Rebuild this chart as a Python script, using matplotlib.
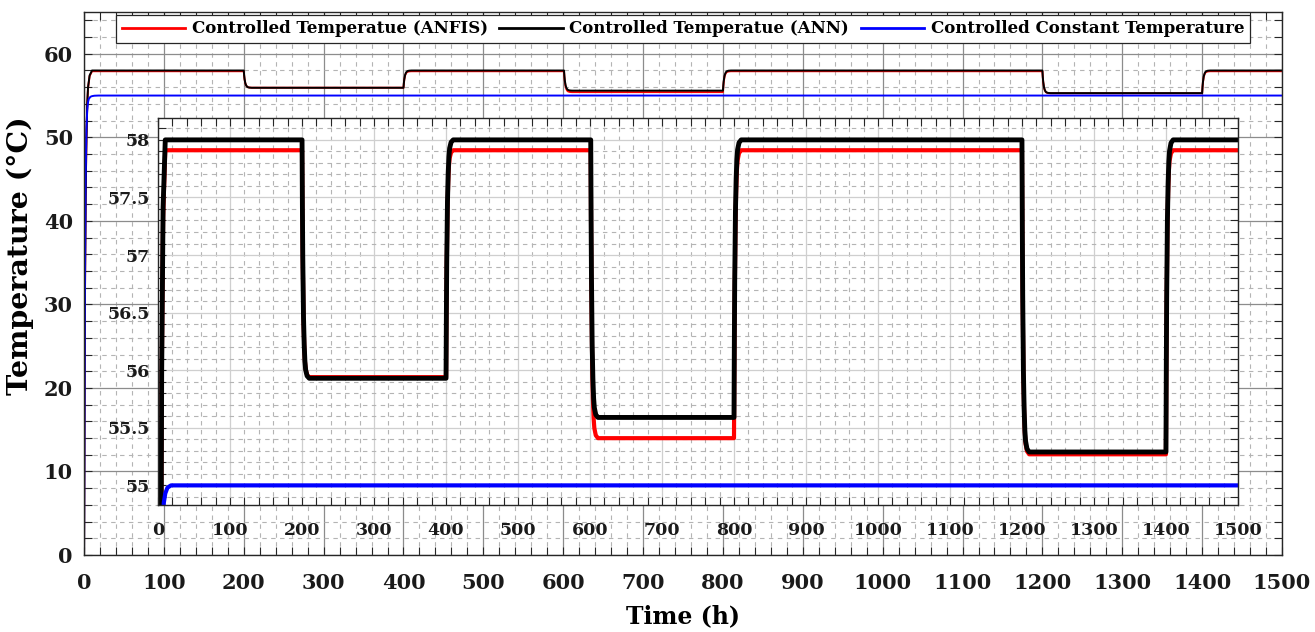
"""Controlled temperature over time for the ANFIS, ANN and constant set-point cases"""

import matplotlib
matplotlib.use("Agg")
import matplotlib.pyplot as plt
from matplotlib.ticker import MultipleLocator, FuncFormatter

# set-point changes (h) and the level held after each one
switch_times = [0, 200, 400, 601, 800, 1200, 1400]
anfis_levels = [57.91, 55.94, 57.91, 55.41, 57.91, 55.27, 57.91]
ann_levels = [58.0, 55.93, 58.0, 55.59, 58.0, 55.29, 58.0]

# how the controlled temperature settles after a change (hours after, fraction done)
settle_hours = [0, 0.5, 1, 2, 3, 4, 5, 7, 10]
settle_fraction = [0.0, 0.28, 0.49, 0.74, 0.86, 0.93, 0.965, 0.99, 1.0]

# constant set-point run, warm-up from 0 then held at 55 °C
constant_time = [0, 1, 2, 3, 4, 5, 6, 8, 10, 13, 18, 1500]
constant_temp = [0, 30, 45, 51, 53.2, 54.2, 54.6, 54.85, 54.93, 54.98, 55.0, 55.0]

t_end = 1500

series_labels = [
    "Controlled Temperatue (ANFIS)",
    "Controlled Temperatue (ANN)",
    "Controlled Constant Temperature",
]
main_xticks = list(range(0, 1501, 100))
main_yticks = [0, 10, 20, 30, 40, 50, 60]
inset_yticks = [55, 55.5, 56, 56.5, 57, 57.5, 58]


def step_trace(levels: list[float], start: float = 0.0):
    """Build the time/temperature polyline for a run of set-point steps"""
    t, temp = [0.0], [start]
    prev = start
    for t0, level in zip(switch_times, levels):
        for dh, frac in zip(settle_hours, settle_fraction):
            t.append(t0 + dh)
            temp.append(prev + frac * (level - prev))
        prev = level
    t.append(t_end)
    temp.append(prev)
    return t, temp


anfis_t, anfis_temp = step_trace(anfis_levels)
ann_t, ann_temp = step_trace(ann_levels)

plt.rcParams["font.family"] = ["DejaVu Serif"]
plt.rcParams["font.weight"] = "bold"


def style_axes(ax, xmajor, xminor, ymajor, yminor, major_grid, label_size):
    ax.xaxis.set_major_locator(MultipleLocator(xmajor))
    ax.xaxis.set_minor_locator(MultipleLocator(xminor))
    ax.yaxis.set_major_locator(MultipleLocator(ymajor))
    ax.yaxis.set_minor_locator(MultipleLocator(yminor))
    ax.tick_params(which="both", direction="in", top=True, right=True,
                   length=5.5, width=0.8, colors="#262626", labelcolor="#1a1a1a",
                   labelsize=label_size)
    ax.grid(which="major", color=major_grid, linewidth=0.9, linestyle="-")
    ax.grid(which="minor", color="#b4b4b4", linewidth=0.8, linestyle=(0, (4, 4)))
    ax.set_axisbelow(True)
    for side in ax.spines.values():
        side.set_linewidth(1.0)
        side.set_color("#262626")


fig = plt.figure(figsize=(13.15, 6.32), dpi=100)

# main axes: whole run on the full temperature scale
ax = fig.add_axes([0.0639, 0.1218, 0.9110, 0.8592])
ax.plot(anfis_t, anfis_temp, color="#ff0000", linewidth=1.4, label=series_labels[0])
ax.plot(ann_t, ann_temp, color="black", linewidth=1.4, label=series_labels[1])
ax.plot(constant_time, constant_temp, color="#0000ff", linewidth=1.4, label=series_labels[2])
ax.set_xlim(0, 1500)
ax.set_ylim(0, 65)
style_axes(ax, 100, 20, 10, 2, "#8c8c8c", 15)
ax.set_xticks(main_xticks)
ax.set_yticks(main_yticks)
ax.tick_params(axis="x", pad=13)
ax.tick_params(axis="y", pad=8)
ax.set_xlabel("Time (h)", fontsize=17, fontweight="bold", labelpad=8)
ax.set_ylabel("Temperature (°C)", fontsize=20.5, fontweight="bold")
ax.yaxis.set_label_coords(-0.0417, 0.552)

leg = ax.legend(loc="upper center", bbox_to_anchor=(0.5, 1.0), ncol=3,
                frameon=True, fancybox=False, borderaxespad=0.15,
                prop={"family": "DejaVu Serif", "weight": "bold", "size": 12},
                handlelength=3.8, handletextpad=0.4, columnspacing=0.7,
                borderpad=0.35)
leg.get_frame().set_edgecolor("#262626")
leg.get_frame().set_linewidth(0.9)
leg.get_frame().set_alpha(1.0)
for line in leg.get_lines():
    line.set_linewidth(2.0)

# zoomed view of the 55-58 °C band
inset = fig.add_axes([0.1202, 0.201, 0.8212, 0.6123])
inset.plot(anfis_t, anfis_temp, color="#ff0000", linewidth=3.0)
inset.plot(ann_t, ann_temp, color="black", linewidth=3.5)
inset.plot(constant_time, constant_temp, color="#0000ff", linewidth=3.0)
inset.set_xlim(0, 1500)
inset.set_ylim(54.83, 58.19)
style_axes(inset, 100, 20, 0.5, 0.1, "#cfcfcf", 12.5)
inset.set_xticks(main_xticks)
inset.set_yticks(inset_yticks)
inset.yaxis.set_major_formatter(FuncFormatter(lambda v, _: f"{v:g}"))
inset.tick_params(axis="x", pad=12)
inset.tick_params(axis="y", pad=6)

fig.savefig("out.png", dpi=100)
